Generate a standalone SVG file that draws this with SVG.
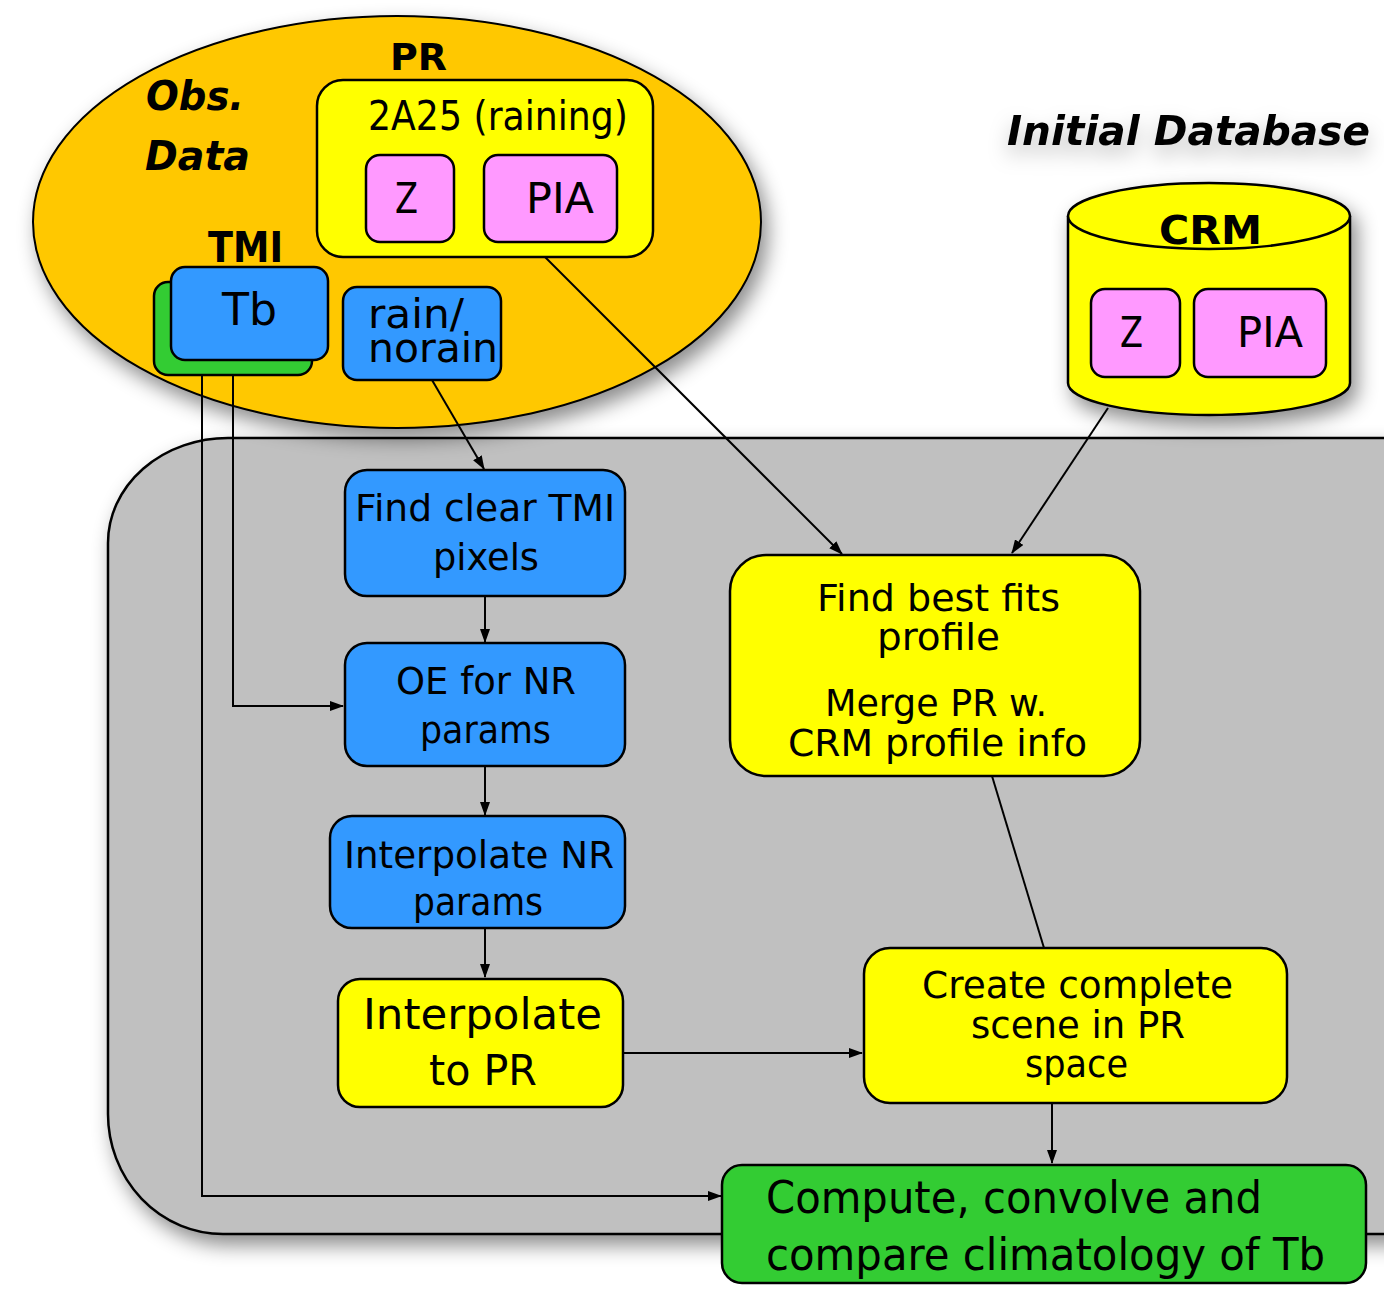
<svg xmlns="http://www.w3.org/2000/svg" width="1384" height="1302" viewBox="0 0 1384 1302">
  <style>
    .box { stroke: #000; stroke-width: 2.5; }
    .blue { fill: #3399FF; }
    .yellow { fill: #FFFF00; }
    .pink { fill: #FF99FF; }
    .green { fill: #33CC33; }
    .t { font-family: "DejaVu Sans", Verdana, sans-serif; fill: #000; }
    .b { font-weight: bold; }
    .i { font-style: italic; }
    .conn { stroke: #000; stroke-width: 2; fill: none; }
  </style>
  <defs>
    <marker id="arr" viewBox="0 0 14 10" refX="13" refY="5" markerWidth="14" markerHeight="10" markerUnits="userSpaceOnUse" orient="auto">
      <path d="M0,0 L14,5 L0,10 Z" fill="#000"/>
    </marker>
    <filter id="shadow" x="-20%" y="-20%" width="140%" height="140%">
      <feDropShadow dx="6" dy="10" stdDeviation="10" flood-color="#000" flood-opacity="0.45"/>
    </filter>
    <filter id="haze" x="-20%" y="-60%" width="140%" height="240%">
      <feDropShadow dx="0" dy="10" stdDeviation="10" flood-color="#000" flood-opacity="0.25"/>
    </filter>
  </defs>

  <rect width="1384" height="1302" fill="#fff"/>

  <!-- processing container -->
  <g id="container">
    <path d="M228,438 L1460,438 L1460,1234 L223,1234 A115,120 0 0 1 108,1114 L108,543 A120,105 0 0 1 228,438 Z" fill="#C0C0C0" stroke="#000" stroke-width="2.5" filter="url(#shadow)"/>
  </g>

  <!-- observation data ellipse -->
  <g id="obs-data">
    <ellipse cx="397" cy="222" rx="364" ry="206" fill="#FFC800" stroke="#000" stroke-width="2" filter="url(#shadow)"/>
    <text class="t b i" x="146" y="110" font-size="41" textLength="98" lengthAdjust="spacingAndGlyphs">Obs.</text>
    <text class="t b i" x="145" y="170" font-size="41" textLength="105" lengthAdjust="spacingAndGlyphs">Data</text>
    <text class="t b" x="390" y="70" font-size="38" textLength="57" lengthAdjust="spacingAndGlyphs">PR</text>
    <text class="t b" x="208" y="262" font-size="43" textLength="75" lengthAdjust="spacingAndGlyphs">TMI</text>
  </g>

  <g id="pr-2a25">
    <rect class="box yellow" x="317" y="80" width="336" height="177" rx="26"/>
    <text class="t" x="368" y="130" font-size="41" textLength="260" lengthAdjust="spacingAndGlyphs">2A25 (raining)</text>
  </g>
  <g id="pr-z">
    <rect class="box pink" x="366" y="155" width="88" height="87" rx="14"/>
    <text class="t" x="395" y="213" font-size="43" textLength="23" lengthAdjust="spacingAndGlyphs">Z</text>
  </g>
  <g id="pr-pia">
    <rect class="box pink" x="484" y="155" width="133" height="87" rx="14"/>
    <text class="t" x="526" y="213" font-size="43" textLength="68" lengthAdjust="spacingAndGlyphs">PIA</text>
  </g>

  <g id="tmi-tb">
    <rect class="box green" x="154" y="282" width="158" height="93" rx="14"/>
    <rect class="box blue" x="171" y="267" width="157" height="93" rx="14"/>
    <text class="t" x="222" y="325" font-size="45" textLength="55" lengthAdjust="spacingAndGlyphs">Tb</text>
  </g>
  <g id="tmi-rain">
    <rect class="box blue" x="343" y="287" width="158" height="93" rx="14"/>
    <text class="t" x="368" y="328" font-size="41" textLength="96" lengthAdjust="spacingAndGlyphs">rain/</text>
    <text class="t" x="368" y="362" font-size="41" textLength="130" lengthAdjust="spacingAndGlyphs">norain</text>
  </g>

  <!-- CRM database -->
  <g id="initial-database">
    <text class="t b i" x="1007" y="145" font-size="40" textLength="363" lengthAdjust="spacingAndGlyphs" filter="url(#haze)">Initial Database</text>
  </g>
  <g id="crm">
    <g filter="url(#shadow)">
      <path d="M1068,216 L1068,383 A141,32 0 0 0 1350,383 L1350,216" fill="#FFFF00" stroke="#000" stroke-width="2.5"/>
      <ellipse cx="1209" cy="216" rx="141" ry="33" fill="#FFFF00" stroke="#000" stroke-width="2.5"/>
    </g>
    <text class="t b" x="1159" y="244" font-size="39" textLength="103" lengthAdjust="spacingAndGlyphs">CRM</text>
  </g>
  <g id="crm-z">
    <rect class="box pink" x="1091" y="289" width="89" height="88" rx="14"/>
    <text class="t" x="1120" y="347" font-size="43" textLength="23" lengthAdjust="spacingAndGlyphs">Z</text>
  </g>
  <g id="crm-pia">
    <rect class="box pink" x="1194" y="289" width="132" height="88" rx="14"/>
    <text class="t" x="1237" y="347" font-size="43" textLength="66" lengthAdjust="spacingAndGlyphs">PIA</text>
  </g>

  <!-- processing steps -->
  <g id="find-clear">
    <rect class="box blue" x="345" y="470" width="280" height="126" rx="22"/>
    <text class="t" x="355" y="521" font-size="38" textLength="260" lengthAdjust="spacingAndGlyphs">Find clear TMI</text>
    <text class="t" x="433" y="570" font-size="38" textLength="106" lengthAdjust="spacingAndGlyphs">pixels</text>
  </g>
  <g id="oe-nr">
    <rect class="box blue" x="345" y="643" width="280" height="123" rx="22"/>
    <text class="t" x="396" y="694" font-size="37" textLength="180" lengthAdjust="spacingAndGlyphs">OE for NR</text>
    <text class="t" x="420" y="743" font-size="37" textLength="131" lengthAdjust="spacingAndGlyphs">params</text>
  </g>
  <g id="interp-nr">
    <rect class="box blue" x="330" y="816" width="295" height="112" rx="22"/>
    <text class="t" x="344" y="868" font-size="37" textLength="270" lengthAdjust="spacingAndGlyphs">Interpolate NR</text>
    <text class="t" x="413" y="915" font-size="37" textLength="130" lengthAdjust="spacingAndGlyphs">params</text>
  </g>
  <g id="interp-pr">
    <rect class="box yellow" x="338" y="979" width="285" height="128" rx="22"/>
    <text class="t" x="363" y="1029" font-size="42" textLength="239" lengthAdjust="spacingAndGlyphs">Interpolate</text>
    <text class="t" x="429" y="1085" font-size="42" textLength="108" lengthAdjust="spacingAndGlyphs">to PR</text>
  </g>
  <g id="best-fits">
    <rect class="box yellow" x="730" y="555" width="410" height="221" rx="36"/>
    <text class="t" x="817" y="611" font-size="38" textLength="243" lengthAdjust="spacingAndGlyphs">Find best fits</text>
    <text class="t" x="877" y="650" font-size="38" textLength="123" lengthAdjust="spacingAndGlyphs">profile</text>
    <text class="t" x="825" y="716" font-size="38" textLength="222" lengthAdjust="spacingAndGlyphs">Merge PR w.</text>
    <text class="t" x="788" y="756" font-size="38" textLength="299" lengthAdjust="spacingAndGlyphs">CRM profile info</text>
  </g>
  <g id="create-scene">
    <rect class="box yellow" x="864" y="948" width="423" height="155" rx="26"/>
    <text class="t" x="922" y="998" font-size="37" textLength="311" lengthAdjust="spacingAndGlyphs">Create complete</text>
    <text class="t" x="971" y="1038" font-size="37" textLength="214" lengthAdjust="spacingAndGlyphs">scene in PR</text>
    <text class="t" x="1025" y="1077" font-size="37" textLength="103" lengthAdjust="spacingAndGlyphs">space</text>
  </g>
  <g id="compute">
    <rect class="box green" x="722" y="1165" width="644" height="118" rx="20"/>
    <text class="t" x="766" y="1213" font-size="45" textLength="496" lengthAdjust="spacingAndGlyphs">Compute, convolve and</text>
    <text class="t" x="766" y="1270" font-size="45" textLength="559" lengthAdjust="spacingAndGlyphs">compare climatology of Tb</text>
  </g>

  <!-- connectors -->
  <g id="connectors">
    <path class="conn" d="M233,375 L233,706 L343,706" marker-end="url(#arr)"/>
    <path class="conn" d="M202,375 L202,1196 L721,1196" marker-end="url(#arr)"/>
    <path class="conn" d="M432,380 L484,469" marker-end="url(#arr)"/>
    <path class="conn" d="M545,257 L842,554" marker-end="url(#arr)"/>
    <path class="conn" d="M1108,408 L1012,553" marker-end="url(#arr)"/>
    <path class="conn" d="M485,596 L485,642" marker-end="url(#arr)"/>
    <path class="conn" d="M485,766 L485,815" marker-end="url(#arr)"/>
    <path class="conn" d="M485,928 L485,977" marker-end="url(#arr)"/>
    <path class="conn" d="M992,776 L1044,948"/>
    <path class="conn" d="M623,1053 L862,1053" marker-end="url(#arr)"/>
    <path class="conn" d="M1052,1103 L1052,1163" marker-end="url(#arr)"/>
  </g>
</svg>
